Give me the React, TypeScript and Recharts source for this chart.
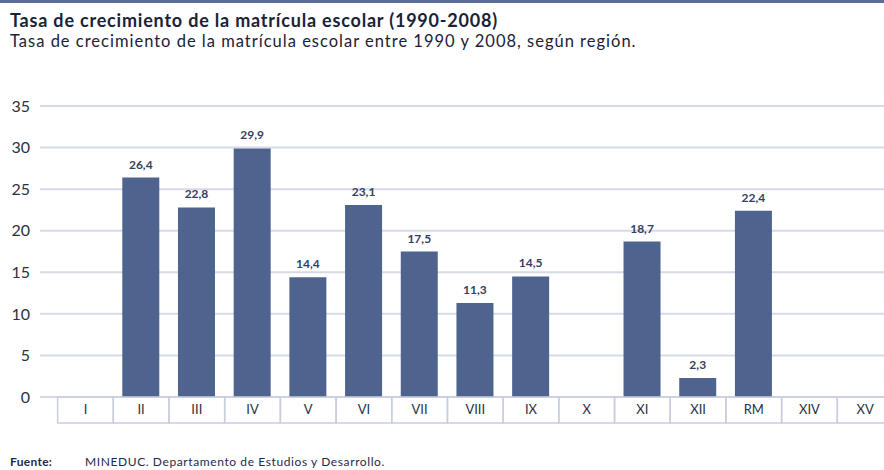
import React from 'react';
import { BarChart, Bar, XAxis, YAxis, CartesianGrid, LabelList } from 'recharts';

const categories = ['I', 'II', 'III', 'IV', 'V', 'VI', 'VII', 'VIII', 'IX', 'X', 'XI', 'XII', 'RM', 'XIV', 'XV'];
const growthRates: (number | null)[] = [null, 26.4, 22.8, 29.9, 14.4, 23.1, 17.5, 11.3, 14.5, null, 18.7, 2.3, 22.4, null, null];
const yTicks = [0, 5, 10, 15, 20, 25, 30, 35];

const titleText = 'Tasa de crecimiento de la matrícula escolar (1990-2008)';
const subtitleText = 'Tasa de crecimiento de la matrícula escolar entre 1990 y 2008, según región.';
const sourceLabel = 'Fuente:';
const sourceText = 'MINEDUC. Departamento de Estudios y Desarrollo.';

const data = categories.map((c, i) => ({ region: c, value: growthRates[i] }));

const CHART_W = 900;
const CHART_H = 440;
const MARGIN = { top: 106, right: 7, bottom: 17, left: 0 };
const Y_W = 40;
const PAD_L = 17.6;
const CELL_W = (CHART_W - MARGIN.right - MARGIN.left - Y_W - PAD_L) / categories.length;
const X_H = 26;

const FONT = 'Lato, "Open Sans", sans-serif';

const CellTick = (props: any) => {
  const { x, y, payload } = props;
  return (
    <g>
      <rect x={x - CELL_W / 2} y={y} width={CELL_W} height={X_H} fill="none" stroke="#c9cedf" strokeWidth={1.5} />
      <text x={x} y={y + X_H / 2 + 1} textAnchor="middle" dominantBaseline="middle" fontSize={13} fontFamily={FONT} fill="#2a3145">
        {payload.value}
      </text>
    </g>
  );
};

const fmt = (v: any) => (v === null || v === undefined ? '' : Number(v).toFixed(1).replace('.', ','));

export default function App() {
  return (
    <div style={{ position: 'absolute', left: 0, top: 0, width: 884, height: 470, overflow: 'hidden', background: '#fff', fontFamily: FONT }}>
      <div style={{ position: 'absolute', left: 0, top: 0, width: 884, height: 3, background: '#5a6d96' }} />
      <div style={{ position: 'absolute', left: 10, top: 9, fontSize: 18, lineHeight: 'normal', fontWeight: 700, letterSpacing: 0.8, color: '#1a2238', whiteSpace: 'nowrap' }}>{titleText}</div>
      <div style={{ position: 'absolute', left: 10, top: 30.5, fontSize: 16.5, lineHeight: 'normal', letterSpacing: 1.0, color: '#1a2238', whiteSpace: 'nowrap' }}>{subtitleText}</div>
      <div style={{ position: 'absolute', left: 0, top: 0 }}>
        <BarChart width={CHART_W} height={CHART_H} data={data} margin={MARGIN}>
          <CartesianGrid vertical={false} stroke="#d6dae7" strokeWidth={2} />
          <YAxis
            width={Y_W}
            domain={[0, 35]}
            ticks={yTicks}
            axisLine={false}
            tickLine={false}
            tickSize={8}
            tickMargin={2}
            tick={{ fontSize: 16, fill: '#2a3145', fontFamily: FONT }}
          />
          <XAxis
            dataKey="region"
            height={X_H}
            axisLine={false}
            tickLine={false}
            tickSize={0}
            tickMargin={0}
            padding={{ left: PAD_L, right: 0 }}
            interval={0}
            tick={<CellTick />}
          />
          <Bar dataKey="value" fill="#4e648f" barSize={37} isAnimationActive={false}>
            <LabelList dataKey="value" position="top" offset={9} formatter={fmt} style={{ fontSize: 12, fontWeight: 700, fill: '#34405f', fontFamily: FONT }} />
          </Bar>
        </BarChart>
      </div>
      <div style={{ position: 'absolute', left: 10, top: 454, fontSize: 12, lineHeight: 'normal', fontWeight: 700, letterSpacing: 0.3, color: '#1e2a50' }}>{sourceLabel}</div>
      <div style={{ position: 'absolute', left: 85, top: 454, fontSize: 12, lineHeight: 'normal', letterSpacing: 0.6, color: '#1e2a50', whiteSpace: 'nowrap' }}>{sourceText}</div>
    </div>
  );
}
